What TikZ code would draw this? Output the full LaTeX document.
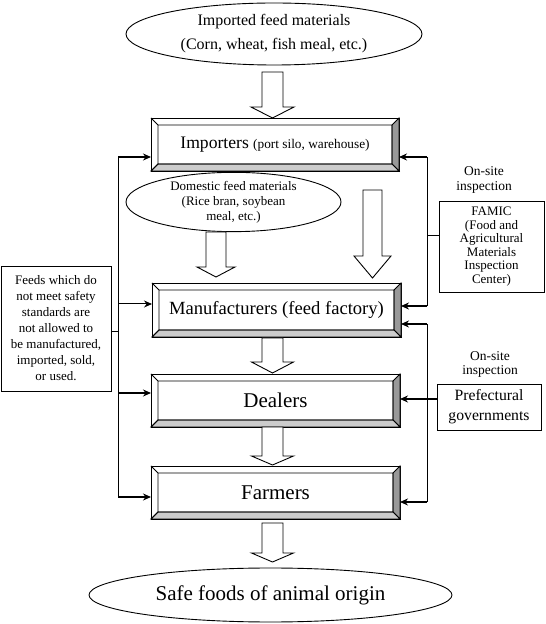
\documentclass[tikz,border=0pt]{standalone}
\usepackage{fontspec}
\setmainfont{Liberation Serif}
\usepackage{tikz}
\usetikzlibrary{arrows.meta,shapes.geometric,calc,positioning}
\newcommand{\fatarrow}[6]{% x, top, tip, shaft half, head half, head length
  \draw[fill=white] (#1-#4,#2) -- (#1+#4,#2) -- (#1+#4,#3+#6) -- (#1+#5,#3+#6)
  -- (#1,#3) -- (#1-#5,#3+#6) -- (#1-#4,#3+#6) -- cycle;}
\newcommand{\fsz}[2]{\fontsize{#1}{#2}\selectfont}

\begin{document}
\begin{tikzpicture}[x=1pt,y=1pt, line width=0.9pt, >={Stealth[length=8pt,width=7pt]},
    every node/.style={inner sep=0pt,outer sep=0pt,align=center},
    feedset/.style={draw,ellipse},
    stage/.style={draw,minimum width=249pt,minimum height=53pt},
    infobox/.style={draw},
    feeder/.style={line width=1.7pt},
    bus/.style={line width=1pt}
    ]
  \useasboundingbox (0,0) rectangle (546,624);
  % feed sources and result
  \node[feedset,minimum width=296pt,minimum height=62pt,font=\fsz{16}{24}]
    (Imported) at (274,590) {Imported feed materials\\(Corn, wheat, fish meal, etc.)};
  \node[feedset,minimum width=215pt,minimum height=58pt,font=\fsz{13}{15}]
    (Domestic) at (233.5,422) {Domestic feed materials\\(Rice bran, soybean\\meal, etc.)};
  \node[feedset,minimum width=363pt,minimum height=54pt,font=\fsz{21}{24}]
    (SafeFoods) at (270.5,29) {Safe foods of animal origin};
  % stages
  \node[stage,minimum width=248pt] (Importers) at (275,479.5)
    {\fsz{17.6}{20}Importers \fsz{13.3}{16}(port silo, warehouse)};
  \node[stage,minimum height=54pt,font=\fsz{18.6}{22}] (Manufacturers) at (276.5,314)
    {Manufacturers (feed factory)};
  \node[stage,font=\fsz{21}{24}] (Dealers) at (275.5,223.5) {Dealers};
  \node[stage,font=\fsz{21}{24}] (Farmers) at (275.5,131.5) {Farmers};
  \foreach \n in {Importers,Manufacturers,Dealers,Farmers}{
    \filldraw[fill=gray!80] (\n.south east) -- (\n.north east)
      -- ([shift={(-7,-7)}]\n.north east) -- ([shift={(-7,7)}]\n.south east) -- cycle;
    \filldraw[fill=gray!40] (\n.south west) -- (\n.south east)
      -- ([shift={(-7,7)}]\n.south east) -- ([shift={(7,7)}]\n.south west) -- cycle;
    \draw (\n.north west) -- ([shift={(7,-7)}]\n.north west)
      rectangle ([shift={(-7,7)}]\n.south east);
    \draw (\n.south west) -- ([shift={(7,7)}]\n.south west);
  }
  % side boxes
  \node[infobox,minimum width=110pt,minimum height=125pt,font=\fsz{13}{16}]
    (Feeds) at (56,295.5) {Feeds which do\\not meet safety\\standards are\\not allowed to\\be manufactured,\\imported, sold,\\or used.};
  \node[infobox,minimum width=105pt,minimum height=91pt,font=\fsz{13}{13.6}]
    (FAMIC) at (491.5,377.5) {FAMIC\\(Food and\\Agricultural\\Materials\\Inspection\\Center)};
  \node[infobox,minimum width=104pt,minimum height=46pt,font=\fsz{15.7}{20}]
    (Prefectural) at (489,217) {Prefectural\\governments};
  \node[font=\fsz{13.5}{15}] (InspA) at (484,444) {On-site\\inspection};
  \node[font=\fsz{13.5}{14}] (InspB) at (490,260) {On-site\\inspection};
  % block arrows
  \fatarrow{272.5}{552}{506}{10.5}{21.5}{11}
  \fatarrow{216}{392}{347}{10}{19}{10}
  \fatarrow{372.5}{434}{346}{9.5}{18.5}{22}
  \fatarrow{272.5}{286}{251}{10.5}{21}{11}
  \fatarrow{272.5}{197}{159}{10.5}{21}{9}
  \fatarrow{272.5}{101}{62}{10.5}{21}{9}
  % left bus
  \coordinate (LeftTop) at (118,467);
  \coordinate (LeftMid) at (118,320);
  \coordinate (LeftDeal) at (118,231);
  \coordinate (LeftBot) at (118,127);
  \draw[bus] (LeftTop) -- (LeftBot);
  \draw[bus] (Feeds.east |- 0,292) -- (118,292);
  \draw[feeder,->] (LeftTop) -- (LeftTop -| Importers.west);
  \draw[bus,->] (LeftMid) -- (LeftMid -| Manufacturers.west);
  \draw[feeder,->] (LeftDeal) -- (LeftDeal -| Dealers.west);
  \draw[feeder,->] (LeftBot) -- (LeftBot -| Farmers.west);
  % right buses
  \coordinate (RightTop) at (427,467);
  \coordinate (RightMid) at (427,318);
  \coordinate (RightLow) at (427,300);
  \coordinate (RightBot) at (427,122);
  \draw[bus] (RightTop) -- (RightMid);
  \draw[bus] (FAMIC.west |- 0,388) -- (427,388);
  \draw[feeder,->] (RightTop) -- (RightTop -| Importers.east);
  \draw[feeder,->] (RightMid) -- (RightMid -| Manufacturers.east);
  \draw[bus] (RightLow) -- (RightBot);
  \draw[feeder,->] (RightLow) -- (RightLow -| Manufacturers.east);
  \draw[feeder,->] (RightBot) -- (RightBot -| Farmers.east);
  \draw[feeder,->] (Prefectural.west |- 0,225) -- (Dealers.east |- 0,225);
\end{tikzpicture}
\end{document}
